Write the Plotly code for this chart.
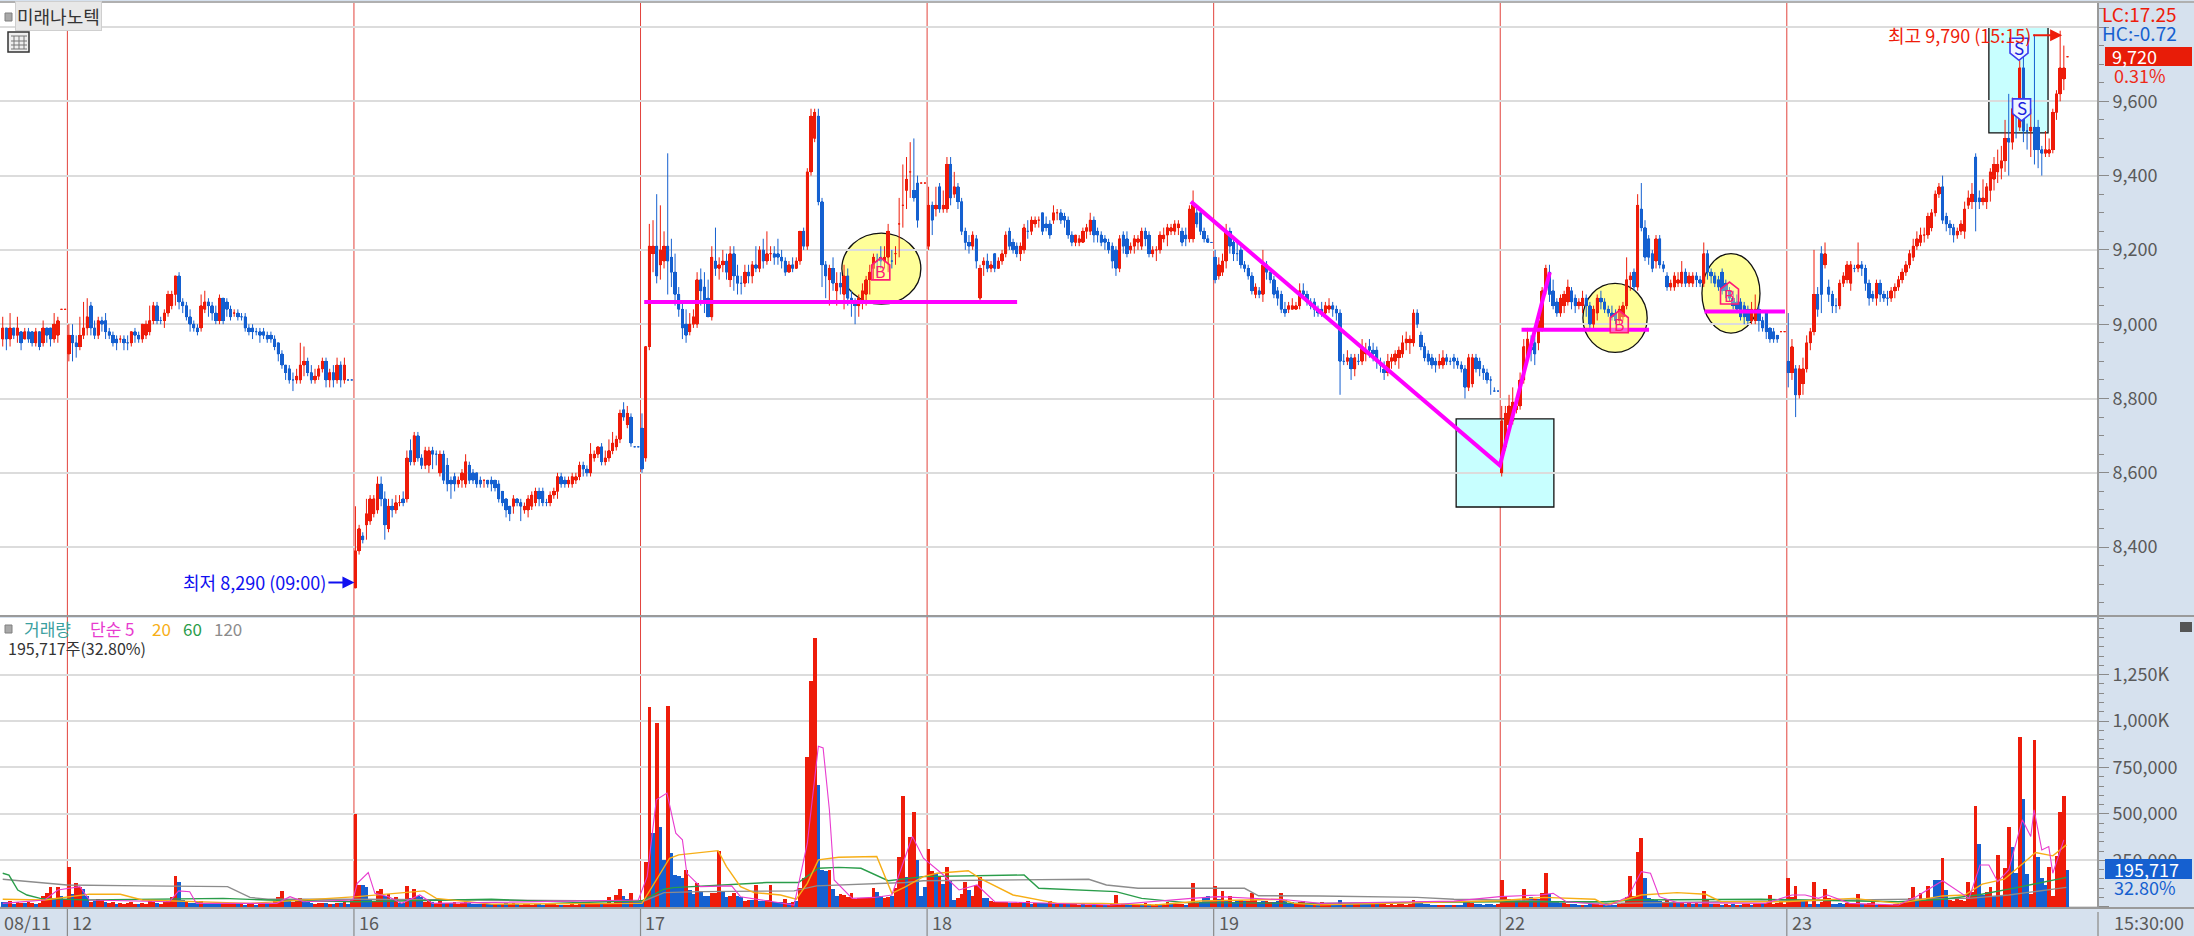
import plotly.graph_objects as go

# Price values are in tens of won, one bar per five minutes.
d11_open = [896,899,896,899,897,898,896,898,898,895,898,895,899,899,896,897,904,904]
d11_close = [899,896,899,897,899,895,898,896,895,898,894,899,897,896,900,901,904,904]
d11_high = [902,899,903,899,902,898,899,899,898,899,898,901,899,899,903,902,904,904]
d11_low = [894,893,894,896,895,893,896,895,894,894,893,894,895,894,895,895,904,904]

d12_open = [892,897,895,894,897,899,905,899,897,901,901,898,897,896,896,896,895,895,898,897,896,897,898,901,905,901,901,903,905,908,913,906,905,902,900,899,899,904,906,905,903,901,907,906,904,903,903,902,902,899,899,898,898,898,897,897,896,895,892,889,888,885,885,885,889,890,887,885,886,888,890,885,887,885,889,885,885,885]
d12_close = [897,895,894,897,899,902,899,897,901,900,898,897,895,895,896,895,895,898,897,896,900,900,901,905,901,901,903,908,908,913,906,905,902,900,899,898,905,906,905,903,901,907,901,904,902,903,902,902,899,898,898,898,897,897,896,896,894,892,889,887,885,885,886,889,890,887,885,886,888,890,885,887,885,889,885,889,885,885]
d12_high = [900,900,897,902,906,907,906,901,902,902,903,899,898,897,897,897,897,898,899,898,900,901,905,906,906,902,904,909,909,913,914,907,906,904,901,900,908,909,907,906,905,908,907,907,905,904,904,903,903,900,900,899,899,899,898,898,897,895,893,889,889,887,888,895,894,891,889,888,889,891,891,888,889,891,890,891,885,885]
d12_low = [890,890,891,893,896,897,897,896,896,898,896,896,894,893,895,893,893,894,895,895,895,896,897,900,900,900,899,902,904,905,904,903,901,898,898,897,898,903,902,901,900,900,900,902,901,902,901,901,898,897,896,897,895,896,895,895,893,890,888,885,884,882,884,884,886,886,884,884,885,887,883,883,883,884,883,884,885,885]

d16_open = [829,839,843,846,847,849,850,857,853,845,851,850,852,853,853,866,863,870,864,862,862,866,865,860,865,862,858,859,857,858,857,862,860,860,858,858,858,858,858,857,855,853,851,851,853,852,850,850,851,852,855,855,852,852,854,855,859,858,857,857,858,859,862,861,860,864,865,867,863,864,866,867,869,877,873,875,867,867]
d16_close = [839,845,842,849,853,853,857,853,846,851,850,852,852,852,864,863,870,864,862,866,866,865,865,865,858,857,857,857,858,860,863,858,858,857,857,858,857,857,856,853,852,850,849,853,852,851,851,853,854,855,853,852,852,854,855,859,857,857,858,859,859,862,861,860,865,865,867,863,864,866,868,869,876,875,876,868,867,867]
d16_high = [851,846,844,853,854,854,859,859,855,853,853,854,854,855,866,869,871,871,865,867,867,867,866,866,866,864,859,860,859,861,865,863,861,860,859,858,858,859,858,858,855,853,851,854,853,853,852,854,855,856,856,856,853,855,856,860,860,859,859,860,860,863,863,862,868,866,867,868,866,869,871,870,877,879,878,876,867,867]
d16_low = [829,838,841,842,846,848,849,851,842,844,848,849,851,851,852,862,862,863,861,861,860,861,862,859,857,855,853,855,856,856,856,857,857,856,856,856,856,855,855,852,851,848,847,849,851,847,849,848,850,851,851,851,851,851,853,853,856,856,856,856,857,858,859,859,859,863,864,862,862,863,865,866,868,874,872,867,867,867]

d17_open = [872,864,894,919,921,916,917,921,918,914,908,904,900,898,900,900,912,910,907,902,917,915,916,917,912,919,913,911,911,914,913,916,915,920,917,919,919,919,918,917,914,916,915,917,925,921,941,950,956,933,916,912,915,909,911,908,913,907,906,905,906,908,912,915,917,918,917,918,917,919,927,932,936,941,936,938,938,938]
d17_close = [861,894,921,921,913,920,921,917,914,908,904,899,897,900,902,912,909,906,902,918,915,916,917,914,919,913,911,911,914,913,916,915,920,917,919,919,918,918,917,914,916,915,917,925,921,941,956,957,933,916,913,915,911,911,910,913,907,906,905,907,909,912,914,918,917,917,918,925,917,919,927,932,939,941,934,928,938,938]
d17_high = [876,894,927,928,935,932,925,946,923,919,910,906,904,903,904,914,915,914,912,921,926,918,920,919,921,921,916,913,916,916,917,921,921,923,925,921,921,923,920,918,917,918,918,925,926,942,958,958,958,934,917,916,918,914,914,916,915,909,907,908,911,913,916,919,919,921,921,927,920,921,934,943,945,949,950,940,938,938]
d17_low = [860,863,893,914,911,912,915,908,910,905,902,896,895,897,899,899,905,903,902,901,913,912,914,912,910,909,908,908,910,911,911,914,914,915,916,917,916,916,915,913,914,914,915,916,920,920,940,949,932,910,907,905,909,905,908,904,905,902,900,902,904,905,908,912,913,915,915,914,915,916,918,926,931,934,933,926,938,938]

d18_open = [921,932,931,937,931,931,943,935,937,933,925,922,921,923,907,916,917,915,919,915,917,919,925,922,921,919,920,925,925,927,928,930,927,927,928,930,930,929,928,924,922,922,922,925,925,928,925,924,923,922,921,920,915,924,923,920,921,922,921,925,924,919,920,920,923,924,925,925,926,925,924,923,923,930,930,925,923,922]
d18_close = [932,928,932,931,932,943,934,937,933,925,922,921,924,917,915,917,915,916,915,917,919,924,921,920,919,921,926,925,928,928,928,925,926,924,930,930,928,928,924,922,924,923,925,926,928,924,924,922,922,920,917,915,923,921,919,921,923,923,925,923,919,920,920,924,924,926,926,927,927,922,923,931,932,927,925,923,922,922]
d18_high = [937,933,937,938,936,945,945,941,938,934,926,924,925,924,916,918,919,917,919,918,920,925,926,923,922,922,927,928,929,929,929,930,929,928,932,931,931,930,929,925,924,924,926,927,930,929,926,925,924,923,922,921,924,925,925,922,924,924,926,926,925,921,921,925,926,927,927,928,928,926,926,932,936,931,931,926,924,922]
d18_low = [920,924,929,930,930,930,932,934,931,924,920,919,920,915,906,913,914,914,914,915,916,918,920,919,918,917,919,923,924,926,926,924,925,923,927,928,927,926,923,921,921,921,922,923,924,922,922,921,920,919,915,913,914,919,918,919,919,920,920,921,918,918,917,919,922,921,924,924,924,921,921,922,922,926,924,922,922,922]

d19_open = [918,913,914,917,925,922,919,920,916,915,913,908,909,908,916,914,912,909,908,904,904,904,904,905,909,908,906,906,904,904,903,904,905,904,903,890,890,891,888,890,890,892,894,893,893,889,888,887,890,890,891,892,895,895,895,903,897,894,892,891,890,889,889,891,890,891,890,889,888,883,884,891,890,888,887,885,882,882]
d19_close = [912,916,917,925,921,919,919,916,915,913,909,910,908,916,914,912,908,907,904,903,905,905,905,909,908,906,905,904,903,903,905,905,904,903,890,890,891,888,891,890,894,893,893,892,890,889,887,890,891,892,893,895,896,896,903,900,894,891,890,889,889,890,891,890,890,890,889,888,883,891,891,888,888,887,885,885,882,882]
d19_high = [920,918,919,927,926,923,922,921,917,916,914,911,910,920,917,915,913,910,909,906,906,907,906,911,911,909,907,907,905,906,906,907,906,905,904,892,893,892,892,892,896,895,896,895,894,891,890,892,892,893,894,897,898,897,904,904,898,895,893,892,891,892,893,892,891,892,891,890,889,892,892,892,891,889,888,886,883,882]
d19_low = [911,912,913,915,919,917,917,915,914,912,908,907,907,906,912,911,907,905,903,902,903,904,904,904,907,905,904,902,902,902,902,903,902,901,881,889,889,885,886,889,889,890,891,890,888,887,885,886,888,889,888,891,893,892,894,899,893,890,889,888,887,888,888,889,889,888,888,887,880,882,883,887,886,885,884,881,882,882]

d22_open = [860,867,873,874,877,878,885,891,894,895,895,899,909,914,909,906,903,905,906,909,907,905,905,907,905,900,903,907,906,904,903,903,901,902,905,912,914,910,931,926,923,919,917,923,916,913,910,910,911,911,914,911,911,913,912,911,919,914,913,912,914,911,909,907,906,906,905,904,901,901,904,901,903,899,898,897,898,898]
d22_close = [874,876,878,879,878,885,894,896,893,892,901,909,915,908,905,903,907,908,910,906,905,906,907,905,900,904,907,906,904,903,902,901,904,905,912,913,910,932,926,918,918,915,923,916,915,910,911,913,912,914,911,913,913,912,911,919,914,913,911,910,909,909,907,905,904,902,902,901,904,904,901,899,898,896,896,896,898,898]
d22_high = [878,878,881,883,880,887,896,899,897,897,903,910,916,916,912,907,908,909,912,910,908,907,909,908,906,905,908,909,907,905,905,904,905,906,918,914,915,935,938,928,924,920,924,924,917,914,912,914,914,917,915,914,914,914,913,922,920,915,914,913,915,912,910,909,908,907,906,905,906,908,905,902,903,899,899,897,898,898]
d22_low = [859,866,872,873,876,877,884,890,890,889,893,898,908,906,904,902,902,903,905,904,903,904,903,902,899,899,901,904,903,902,901,900,900,901,904,909,909,909,925,917,916,914,915,915,914,909,909,909,910,910,910,910,910,910,910,910,912,911,910,909,908,907,906,904,903,901,900,900,900,900,898,898,896,895,895,895,898,898]

d23_open = [890,887,888,881,884,888,895,898,908,919,916,910,908,905,905,911,912,911,915,915,916,915,911,908,907,911,908,907,907,909,910,912,914,916,918,921,922,924,924,926,930,935,937,929,927,926,924,925,925,932,933,945,934,933,933,936,939,941,942,944,950,949,958,953,969,952,952,953,953,947,946,946,947,957,962,966,972]
d23_close = [887,894,881,888,888,895,898,908,904,908,919,908,905,905,911,913,916,916,915,916,915,911,907,907,911,908,907,907,909,910,912,914,916,919,921,923,924,924,929,930,935,937,928,927,926,924,925,927,931,934,935,933,933,934,937,941,943,943,944,950,949,958,956,969,952,952,953,947,947,946,947,947,957,962,969,969,972]
d23_high = [903,896,889,889,891,897,899,920,910,921,922,912,909,907,912,914,917,917,916,922,917,916,912,909,912,912,909,909,910,911,913,915,917,920,923,925,926,926,930,931,936,938,940,930,928,927,926,928,933,936,938,946,936,939,938,942,945,947,948,955,962,961,959,971,972,954,958,978,955,948,952,950,958,963,979,975,972]
d23_low = [883,885,875,880,881,887,893,897,902,903,915,906,903,903,904,910,911,909,914,914,913,909,905,906,905,906,906,905,906,907,909,911,913,915,917,920,921,922,923,925,929,934,927,925,924,922,923,924,923,931,931,925,931,932,931,933,936,938,939,941,940,947,950,952,949,947,945,943,942,940,945,945,946,955,960,963,972]

# Volume in thousands of shares; negative values are falling (blue) bars.
d11_vol = [-25,-25,30,-15,25,20,-20,25,20,-15,20,60,75,108,-40,108,-60,40]
d12_vol = [216,-70,126,108,-94,-60,25,-30,40,35,-25,20,25,-15,20,15,18,25,15,-12,20,15,30,25,-20,15,25,30,54,167,-135,-35,28,-22,-20,-25,30,-20,-18,-20,-18,-15,15,12,18,15,-15,12,-10,12,14,-10,15,15,-12,18,30,50,86,-40,-35,25,35,48,-30,-25,-18,15,18,20,-20,15,-15,18,-18,25,-12,35]
d16_vol = [498,117,-117,-108,-40,30,85,94,-60,70,-35,50,-20,-20,112,-45,94,-60,-50,25,30,-25,20,30,-22,20,-18,25,15,22,25,-18,-15,-15,-15,15,-15,-15,15,-12,12,-18,15,20,-12,10,12,15,10,15,-12,-10,12,12,15,10,-10,10,10,12,10,15,-12,12,20,18,15,-18,20,54,20,65,94,-60,-40,72,-30,-25]
d17_vol = [-30,240,1075,-396,990,-427,-250,1080,-288,-170,-165,-153,198,-90,-70,126,-85,-60,-60,72,75,302,-80,-50,60,72,-60,-50,30,38,-35,117,-30,-30,35,117,-28,-25,-25,40,-22,25,-30,99,157,805,1218,1447,-653,-200,-195,198,-95,-60,68,65,50,75,40,45,45,45,50,99,-80,-60,45,50,-58,100,270,594,-160,378,508,-252,-55,-108]
d18_vol = [310,190,-180,162,-120,216,-145,-35,45,70,135,-90,55,117,162,-45,-45,30,28,28,25,25,-18,20,22,28,-18,32,-15,22,-20,-20,-22,30,-15,15,-15,12,-15,12,12,10,-12,10,10,-10,8,10,-10,10,12,63,10,12,-12,-10,10,15,-10,20,-12,10,12,-15,10,25,-12,12,15,12,-10,20,126,20,-25,-45,-58,30]
d19_vol = [112,-40,86,-30,55,-25,-35,35,-30,30,72,35,-25,-30,30,28,-25,-30,75,-35,-20,-25,15,25,30,-15,-15,12,-12,25,15,18,-12,-10,-35,12,-12,-15,12,15,-12,-15,-12,14,-15,18,20,10,12,10,12,14,10,15,35,-20,-18,-15,-12,-10,-10,10,10,-8,-8,10,-10,-10,-25,30,20,-15,-12,-10,-12,-12,-8,12]
d22_vol = [144,60,40,35,-30,25,94,45,-50,40,-40,72,184,-70,-30,-25,-20,18,15,-15,-12,-10,10,-10,-12,15,12,10,-10,-8,-8,-10,12,20,50,167,60,297,369,-153,-45,-40,-35,-30,28,35,-25,25,-20,22,-15,25,-15,18,-15,85,40,-15,15,12,-10,12,10,-12,10,-10,12,15,-10,12,15,-12,18,63,15,18,25,15]
d23_vol = [153,50,112,35,-30,30,-15,135,-15,25,94,45,-15,-15,-20,-15,18,15,20,68,-15,15,18,25,-10,12,8,10,10,15,15,20,25,45,104,-35,75,30,112,45,-144,-144,265,-90,35,30,40,35,30,135,80,540,-337,-65,80,105,-55,279,-60,207,427,-320,-180,914,-580,-175,70,896,-270,-157,-115,216,60,274,508,594,-196]

# Moving averages of volume, read at their turning points (bar number, thousands).
ma5_x = [0,11.4,15,21,23.6,45.4,47.9,50.9,52.7,74.6,78.2,81.9,95.3,96.5,99.5,101.3,105,108.6,113.5,117,173,175.4,177.9,180.8,183.2,185,186.2,189.9,198.4,200.8,215.4,219,222,223.3,225,226.3,231.2,237.3,242,247.6,250.6,255.5,260.3,265.2,270,301.7,323.5,330.8,350,358.5,380,395,407.5,411,418.3,422,425.6,437.6,442.4,446,448.5,450.9,455.7,479.8,487,490.6,494.2,496.7,502.7,516,520.8,528,531.6,535.2,538.2,540.6,543,546,549.7,552,552.9,555,556.9,558,561]
ma5_y = [18,36,90,108,36,27,85,81,18,18,54,27,36,126,184,72,54,18,63,18,36,162,576,612,396,360,180,108,112,54,9,342,864,855,522,144,45,50,63,378,261,180,90,117,27,9,45,54,36,18,25,30,54,58,63,72,27,9,54,189,180,54,22,18,63,63,45,63,18,9,54,140,90,45,225,225,135,198,468,378,522,306,324,180,360]
ma20_x = [0,11.4,23.6,32,38,67.3,96.5,106,114.7,118,133,174,176.7,181.5,184,189.8,194.7,197,200.8,204.5,211.7,216,219,222,227.5,237.9,242,245.8,250.6,254.3,262.8,266.4,275,287,299,313.8,326,347.8,351.5,358.5,380,407.5,419.5,433.4,436.4,446,455.7,463.5,467.7,484.6,503.9,516,528,534,538.8,544.8,549.7,553.3,558,561.7]
ma20_y = [40,36,68,67,36,18,54,72,85,45,14,18,108,261,279,293,302,216,108,76,63,40,126,252,266,270,72,108,162,180,194,148,63,18,18,9,31,40,18,10,20,32,50,40,9,63,76,67,27,27,45,18,58,63,122,148,230,292,274,333]
ma60_x = [0,1.7,4.1,6.6,10.2,23.6,60,72,96.5,133,157,174,180,182.6,208,216.6,222,227.5,233.6,241,250.6,278,282,296.8,303,310,322,358.5,407.5,436.4,443.6,478.6,516,528,537.6,548.5,561.7]
ma60_y = [180,170,90,63,45,36,45,36,27,40,22,32,94,103,130,130,207,212,207,140,162,171,99,85,81,45,22,18,27,27,36,40,27,40,63,104,158]
ma120_x = [0,11.4,17.5,38,61.2,67.3,72.2,96.5,133,157,174,180,189.8,198.4,215.4,221.5,245.8,250.6,295.6,300.4,309,338,341.8,358.5,385,395,407.5,436.4,516,535,546,561.7]
ma120_y = [148,130,117,112,108,50,40,40,36,32,27,76,81,81,85,112,130,140,148,117,99,99,59,58,50,40,36,18,40,45,63,104]

day_labels = ["08/11", "12", "16", "17", "18", "19", "22", "23"]
day_starts = [0, 18, 96, 174, 252, 330, 408, 486]
price_ticks = [8400, 8600, 8800, 9000, 9200, 9400, 9600, 9800]
price_tick_text = ["8,400", "8,600", "8,800", "9,000", "9,200", "9,400", "9,600", ""]
vol_ticks = [0, 250, 500, 750, 1000, 1250]
vol_tick_text = ["", "250,000", "500,000", "750,000", "1,000K", "1,250K"]

opens = d11_open + d12_open + d16_open + d17_open + d18_open + d19_open + d22_open + d23_open
closes = d11_close + d12_close + d16_close + d17_close + d18_close + d19_close + d22_close + d23_close
highs = d11_high + d12_high + d16_high + d17_high + d18_high + d19_high + d22_high + d23_high
lows = d11_low + d12_low + d16_low + d17_low + d18_low + d19_low + d22_low + d23_low
vols = d11_vol + d12_vol + d16_vol + d17_vol + d18_vol + d19_vol + d22_vol + d23_vol

W, H = 2194, 936
ML, MR, MT, MB = 0, 96, 3, 28
PW, PH = W - ML - MR, H - MT - MB
RED, BLUE, MAGENTA = "#ee1c0a", "#1560d0", "#ff00ff"
FONT = "Liberation Sans Narrow, Noto Sans CJK KR, sans-serif"
KFONT = "Noto Sans CJK KR, sans-serif"
GREY = "#5a5a5a"
PX_PER_BAR, WON_PER_PX = 3.674, 2.692

def X(px): return px / PW
def Y(py): return (H - MB - py) / PH

fig = go.Figure()

# Drawn areas behind the candles
AREAS = [("rect", 395.6, 422.2, 8508, 8745, "#c8ffff"),
         ("rect", 540.6, 556.7, 9515, 9800, "#c8ffff"),
         ("circle", 228.4, 249.9, 9054, 9245, "#ffff99"),
         ("circle", 430.1, 447.6, 8924, 9110, "#ffff99"),
         ("circle", 462.5, 478.3, 8976, 9190, "#ffff99")]
shapes = []
for kind, x0, x1, y0, y1, col in AREAS:
    shapes.append(dict(type=kind, xref="x", yref="y", x0=x0, x1=x1, y0=y0, y1=y1, layer="below",
                       fillcolor=col, line=dict(color="#111", width=1.3)))
for s in day_starts[1:]:
    shapes.append(dict(type="line", xref="x", yref="paper", x0=s - 0.4, x1=s - 0.4, y0=0, y1=1, layer="below",
                       line=dict(color="#e2433c", width=1)))
    shapes.append(dict(type="line", xref="x", yref="paper", x0=s - 0.4, x1=s - 0.4, y0=Y(908), y1=Y(936),
                       line=dict(color="#8a8a8a", width=1.2)))
# Frame lines
for p in (616, 908):
    shapes.append(dict(type="line", xref="paper", yref="paper", x0=0, x1=X(2194), y0=Y(p), y1=Y(p),
                       line=dict(color="#9a9a9a", width=2)))
shapes.append(dict(type="line", xref="paper", yref="paper", x0=0, x1=X(2194), y0=Y(2), y1=Y(2),
                   line=dict(color="#b0b0b0", width=2)))
shapes.append(dict(type="line", xref="paper", yref="paper", x0=X(2098), x1=X(2098), y0=Y(3), y1=Y(908),
                   line=dict(color="#9a9a9a", width=2)))
shapes.append(dict(type="line", xref="paper", yref="paper", x0=X(2098), x1=X(2098), y0=Y(912), y1=Y(936),
                   line=dict(color="#9a9a9a", width=1.5)))
# Price and volume tags on the right
shapes.append(dict(type="rect", xref="paper", yref="paper", x0=X(2105), x1=X(2192), y0=Y(47), y1=Y(66),
                   fillcolor="#e81c08", line_width=0))
shapes.append(dict(type="rect", xref="paper", yref="paper", x0=X(2105), x1=X(2192), y0=Y(859), y1=Y(879),
                   fillcolor="#1560d0", line_width=0))
# Small icons
shapes.append(dict(type="rect", xref="paper", yref="paper", x0=X(5), x1=X(12), y0=Y(13), y1=Y(21),
                   fillcolor="#a8a8a8", line=dict(color="#808080", width=1)))
shapes.append(dict(type="rect", xref="paper", yref="paper", x0=X(5), x1=X(12), y0=Y(625), y1=Y(633),
                   fillcolor="#a8a8a8", line=dict(color="#808080", width=1)))
shapes.append(dict(type="rect", xref="paper", yref="paper", x0=X(8), x1=X(29), y0=Y(32), y1=Y(52),
                   fillcolor="#eeeeee", line=dict(color="#333", width=1.5)))
for gx in (14, 19, 24):
    shapes.append(dict(type="line", xref="paper", yref="paper", x0=X(gx), x1=X(gx), y0=Y(36), y1=Y(49),
                       line=dict(color="#777", width=1)))
for gy in (36, 41, 45, 49):
    shapes.append(dict(type="line", xref="paper", yref="paper", x0=X(11), x1=X(27), y0=Y(gy), y1=Y(gy),
                       line=dict(color="#777", width=1)))
shapes.append(dict(type="rect", xref="paper", yref="paper", x0=X(2180), x1=X(2192), y0=Y(622), y1=Y(632),
                   fillcolor="#555", line_width=0))

# Signal badges: houses (B) and shields (S), sized in pixels around a data position
def badge(bar, price, flip, col, fill):
    hw = 9 / PX_PER_BAR
    h = 11 * WON_PER_PX
    d = -1 if flip else 1
    xs_ = [bar - hw, bar - hw, bar, bar + hw, bar + hw]
    ys_ = [price - d * h, price + d * 0.35 * h, price + d * h, price + d * 0.35 * h, price - d * h]
    path = "M " + " L ".join(f"{a},{b}" for a, b in zip(xs_, ys_)) + " Z"
    return dict(type="path", xref="x", yref="y", path=path, fillcolor=fill, line=dict(color=col, width=1.6))

buy_bars, buy_prices = [239, 440, 470], [9149, 9007, 9084]
sell_bars, sell_prices = [548.8, 549.5], [9740, 9577]
for b, p in zip(buy_bars, buy_prices):
    shapes.append(badge(b, p, False, "#ff1a75", "rgba(255,255,170,0.35)"))
for b, p in zip(sell_bars, sell_prices):
    shapes.append(badge(b, p, True, "#3a3af0", "#eef6ff"))

xs = list(range(len(closes)))
fig.add_trace(go.Candlestick(x=xs, open=[v * 10 for v in opens], high=[v * 10 for v in highs],
                             low=[v * 10 for v in lows], close=[v * 10 for v in closes],
                             increasing=dict(line=dict(color=RED, width=1), fillcolor=RED),
                             decreasing=dict(line=dict(color=BLUE, width=1), fillcolor=BLUE),
                             whiskerwidth=0, showlegend=False, xaxis="x", yaxis="y"))

# Candle bodies at the reference's width
body_up = [i for i in xs if closes[i] >= opens[i]]
body_dn = [i for i in xs if closes[i] < opens[i]]
for idx, col in ((body_up, RED), (body_dn, BLUE)):
    fig.add_trace(go.Bar(x=idx, y=[abs(closes[i] - opens[i]) * 10 for i in idx],
                         base=[min(closes[i], opens[i]) * 10 for i in idx], width=0.92,
                         marker=dict(color=col, line_width=0), showlegend=False, xaxis="x", yaxis="y"))

# Hand-drawn trend lines
TREND = [([174.6, 276.1], [9060, 9060]),
         ([323.4, 407.5, 421.1], [9330, 8620, 9140]),
         ([413.4, 448.1], [8985, 8985]),
         ([463.2, 485.1], [9034, 9034])]
for tx, ty in TREND:
    fig.add_trace(go.Scatter(x=tx, y=ty, mode="lines", line=dict(color=MAGENTA, width=4), showlegend=False,
                             xaxis="x", yaxis="y"))

# Volume bars
up_x = [x for x, v in zip(xs, vols) if v >= 0]
up_y = [v for v in vols if v >= 0]
dn_x = [x for x, v in zip(xs, vols) if v < 0]
dn_y = [-v for v in vols if v < 0]
fig.add_trace(go.Bar(x=dn_x, y=dn_y, width=1.0, marker=dict(color=BLUE, line_width=0), showlegend=False,
                     xaxis="x2", yaxis="y2"))
fig.add_trace(go.Bar(x=up_x, y=up_y, width=1.0, marker=dict(color=RED, line_width=0), showlegend=False,
                     xaxis="x2", yaxis="y2"))
for mx, my, col, wd in [(ma120_x, ma120_y, "#8c8c8c", 1.4), (ma60_x, ma60_y, "#2a9d4a", 1.4),
                        (ma20_x, ma20_y, "#f7ae16", 1.4), (ma5_x, ma5_y, "#e83ccf", 1.1)]:
    fig.add_trace(go.Scatter(x=mx, y=my, mode="lines", line=dict(color=col, width=wd, shape="linear"),
                             showlegend=False, xaxis="x2", yaxis="y2"))

def note(px, py, text, color=GREY, size=17, anchor="left", family=FONT, **kw):
    return dict(xref="paper", yref="paper", x=X(px), y=Y(py), text=text, showarrow=False, xanchor=anchor,
                yanchor="middle", font=dict(color=color, size=size, family=family), **kw)

annotations = []
day_px = [2, 70, 357, 643, 930, 1217, 1503, 1790]
for label, px in zip(day_labels, day_px):
    annotations.append(note(px, 922, label, size=18))
for b, p in zip(buy_bars, buy_prices):
    annotations.append(dict(xref="x", yref="y", x=b, y=p - 6, text="B", showarrow=False,
                            font=dict(color="#ff1a75", size=16, family=FONT)))
for b, p in zip(sell_bars, sell_prices):
    annotations.append(dict(xref="x", yref="y", x=b, y=p + 6, text="S", showarrow=False,
                            font=dict(color="#2020e0", size=17, family=FONT)))
annotations += [
    note(2112, 922, "15:30:00", size=18),
    note(15, 16, "미래나노텍", size=18, family=KFONT, bgcolor="#e8e8e8", bordercolor="#cfcfcf", borderwidth=1, color="#333"),
    note(2100, 14, "LC:17.25", color="#ee1c0a", size=19),
    note(2100, 32, "HC:-0.72", color="#1560d0", size=19),
    note(2110, 56, "9,720", color="#ffffff", size=18),
    note(2112, 75, "0.31%", color="#ee2a18", size=18),
    note(2112, 869, "195,717", color="#ffffff", size=18),
    note(2112, 887, "32.80%", color="#1560d0", size=18),
    note(22, 629, "거래량", color="#3aa0a0", size=17, family=KFONT),
    note(88, 629, "단순 5", color="#e83ccf", size=17, family=KFONT),
    note(150, 629, "20", color="#f7ae16", size=17),
    note(181, 629, "60", color="#2a9d4a", size=17),
    note(212, 629, "120", color="#8c8c8c", size=17),
    note(6, 648, "195,717주(32.80%)", color="#333333", size=16, family=KFONT),
    dict(xref="x", yref="y", x=96, y=8305, ax=-27, ay=0, text="최저 8,290 (09:00)", showarrow=True,
         arrowcolor="#1010f0", arrowwidth=2, arrowhead=2, arrowsize=1.2, xanchor="right",
         font=dict(color="#1010f0", size=18, family=KFONT), standoff=1),
    dict(xref="x", yref="y", x=560.8, y=9778, ax=-30, ay=0, text="최고 9,790 (15:15)", showarrow=True,
         arrowcolor="#ee1c0a", arrowwidth=2, arrowhead=2, arrowsize=1.2, xanchor="right",
         font=dict(color="#ee1c0a", size=18, family=KFONT), standoff=1),
]

X_RANGE = [-0.74, 570.3]
GRID = "#dcdcdc"
fig.update_layout(
    width=W, height=H, autosize=False, margin=dict(l=ML, r=MR, t=MT, b=MB, pad=0),
    paper_bgcolor="#d6e1ee", plot_bgcolor="#ffffff", barmode="overlay", bargap=0,
    showlegend=False, shapes=shapes, annotations=annotations,
    xaxis=dict(domain=[0, 1], range=X_RANGE, anchor="y", showgrid=False, showticklabels=False, ticks="",
               zeroline=False, rangeslider=dict(visible=False), fixedrange=True),
    xaxis2=dict(domain=[0, 1], range=X_RANGE, anchor="y2", showgrid=False, showticklabels=False, ticks="",
                zeroline=False, fixedrange=True),
    yaxis=dict(domain=[Y(616), 1], range=[8214.6, 9864.6], side="right", anchor="x", tickmode="array",
               tickvals=price_ticks, ticktext=price_tick_text, showgrid=True, gridcolor=GRID, gridwidth=2,
               ticks="outside", ticklen=10, tickcolor="#8a8a8a", zeroline=False,
               tickfont=dict(color=GREY, size=18, family=FONT),
               minor=dict(ticks="outside", ticklen=5, tickcolor="#8a8a8a", dtick=50, tick0=0, showgrid=False),
               fixedrange=True),
    yaxis2=dict(domain=[0, Y(618)], range=[-7, 1555], side="right", anchor="x2", tickmode="array",
                tickvals=vol_ticks, ticktext=vol_tick_text, showgrid=True, gridcolor=GRID, gridwidth=2,
                ticks="outside", ticklen=10, tickcolor="#8a8a8a", zeroline=False,
                tickfont=dict(color=GREY, size=18, family=FONT),
                minor=dict(ticks="outside", ticklen=5, tickcolor="#8a8a8a", dtick=50, tick0=0, showgrid=False),
                fixedrange=True),
)

fig.write_html("out.html", config=dict(displayModeBar=False),
               post_script="document.body.style.margin='0';document.body.style.background='#d6e1ee';")
